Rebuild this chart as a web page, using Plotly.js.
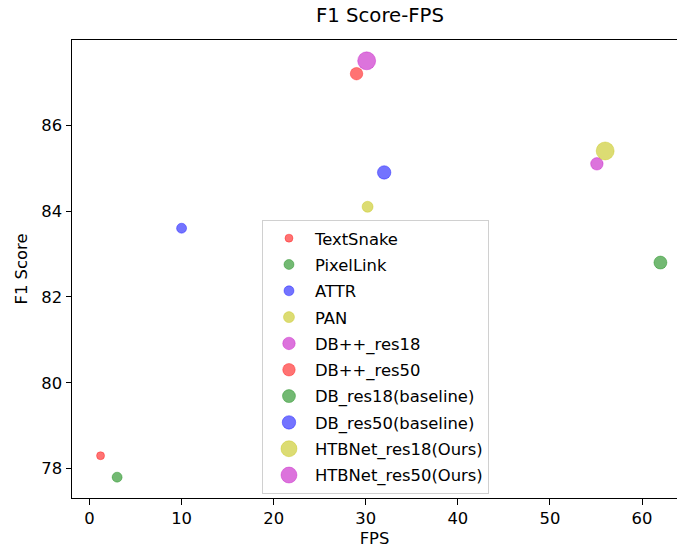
<!DOCTYPE html>
<html>
<head>
<meta charset="utf-8">
<script src="https://cdn.plot.ly/plotly-3.0.1.min.js"></script>
<style>html,body{margin:0;padding:0;overflow:hidden;background:#fff;}</style>
</head>
<body>
<div id="chart" style="width:677px;height:550px;"></div>
<script>
const methods = ["TextSnake","PixelLink","ATTR","PAN","DB++_res18","DB++_res50","DB_res18(baseline)","DB_res50(baseline)","HTBNet_res18(Ours)","HTBNet_res50(Ours)"];
const fps = [1.2, 3, 10, 30.2, 55.1, 29, 62, 32, 56, 30.1];
const f1 = [78.3, 77.8, 83.6, 84.1, 85.1, 87.2, 82.8, 84.9, 85.4, 87.5];
const sizes = [8, 10, 10, 11, 12.5, 12.5, 13, 13.5, 18, 18];
const colors = ["255,0,0","0,128,0","0,0,255","191,191,0","191,0,191","255,0,0","0,128,0","0,0,255","191,191,0","191,0,191"];

const traces = methods.map((m, i) => ({
  type: "scatter",
  mode: "markers",
  name: m,
  legendgroup: "g" + i,
  x: [fps[i]],
  y: [f1[i]],
  marker: {
    size: sizes[i],
    color: "rgba(" + colors[i] + ",0.55)",
    line: {width: 1, color: "rgba(" + colors[i] + ",0.35)"}
  },
  hoverinfo: "x+y+name"
}));

const font = "DejaVu Sans, sans-serif";
const fs = 16.4;
const layout = {
  width: 677, height: 550,
  margin: {l: 72, r: 0, t: 40, b: 52},
  paper_bgcolor: "#fff", plot_bgcolor: "#fff",
  font: {family: font, size: fs, color: "#000"},
  title: {text: "F1 Score-FPS", font: {family: font, size: 19.7, color: "#000"}, xref: "paper", x: 0.509, xanchor: "center", y: 1, yref: "container", yanchor: "top", pad: {t: 8}},
  xaxis: {
    range: [-1.9, 63.8], showgrid: false, zeroline: false,
    showline: true, linecolor: "#000", linewidth: 1, mirror: true,
    ticks: "outside", ticklen: 5.5, tickcolor: "#000",
    tickvals: [0,10,20,30,40,50,60],
    tickfont: {family: font, size: fs},
    title: {text: "FPS", font: {family: font, size: fs}, standoff: 5}
  },
  yaxis: {
    range: [77.315, 87.985], showgrid: false, zeroline: false,
    showline: true, linecolor: "#000", linewidth: 1, mirror: false,
    ticks: "outside", ticklen: 5.5, tickcolor: "#000",
    tickvals: [78,80,82,84,86],
    tickfont: {family: font, size: fs},
    title: {text: "F1 Score", font: {family: font, size: fs}, standoff: 9}
  },
  showlegend: true,
  legend: {
    x: 0.314, y: 0.607, xanchor: "left", yanchor: "top",
    bgcolor: "rgba(255,255,255,0.8)", bordercolor: "#d0d0d0", borderwidth: 1,
    font: {family: font, size: fs, color: "#000"},
    tracegroupgap: 2, itemwidth: 42, itemsizing: "trace"
  }
};

Plotly.newPlot("chart", traces, layout, {displayModeBar: false, staticPlot: true});
</script>
</body>
</html>
